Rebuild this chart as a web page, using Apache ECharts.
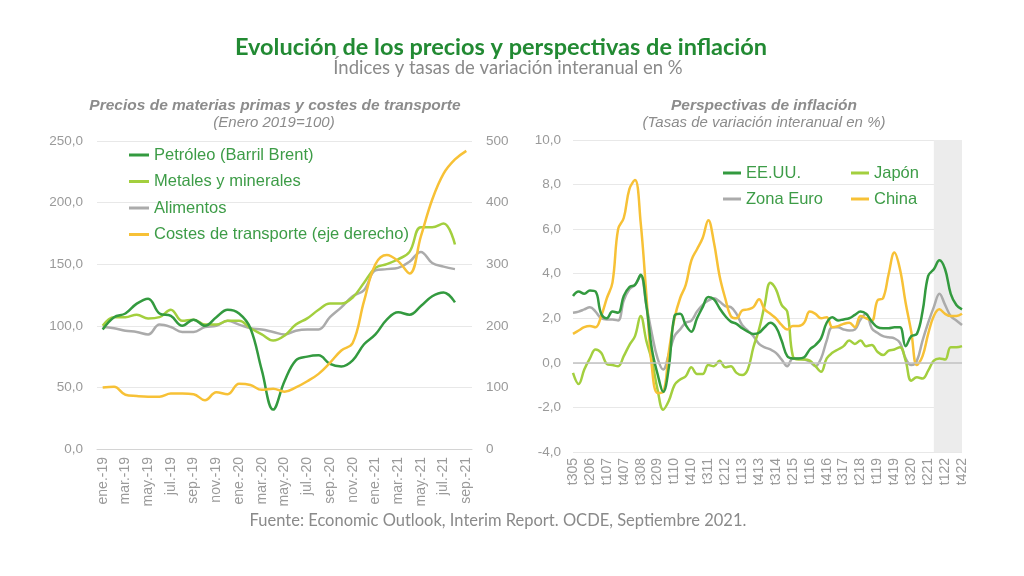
<!DOCTYPE html>
<html>
<head>
<meta charset="utf-8">
<script src="https://cdn.jsdelivr.net/npm/echarts@6/dist/echarts.min.js"></script>
<style>
html,body{margin:0;padding:0;background:#fff;}
#chart{width:1024px;height:576px;}
</style>
</head>
<body>
<div id="chart"></div>
<script>
// ---- Left panel: monthly commodity & transport indices (Enero 2019 = 100)
const months = ['ene.-19','feb.-19','mar.-19','abr.-19','may.-19','jun.-19','jul.-19','ago.-19','sep.-19','oct.-19','nov.-19','dic.-19',
  'ene.-20','feb.-20','mar.-20','abr.-20','may.-20','jun.-20','jul.-20','ago.-20','sep.-20','oct.-20','nov.-20','dic.-20',
  'ene.-21','feb.-21','mar.-21','abr.-21','may.-21','jun.-21','jul.-21','ago.-21','sep.-21'];
const petroleo   = [97,107,110,118,122,110,108,100,105,100,107,113,110,98,64,32,55,72,75,76,69,67,72,85,93,105,111,109,116,124,127,119];
const metales    = [100,107,107,109,106,107,113,104,105,101,101,104,104,98,93,88,92,101,106,113,118,118,123,135,147,150,154,160,180,180,183,166];
const alimentos  = [99,98,96,95,93,101,99,95,95,99,100,104,101,98,97,95,93,96,97,97,107,115,124,129,145,146,147,152,160,151,148,146];
const transporte = [100,101,88,86,85,85,90,90,89,79,92,89,106,104,96,98,93,100,110,122,140,160,172,240,300,315,305,285,345,405,447,470,484];

// ---- Right panel: quarterly inflation (% yoy)
const quarters = ['t305','t405',
  't106','t206','t306','t406','t107','t207','t307','t407','t108','t208','t308','t408','t109','t209','t309','t409',
  't110','t210','t310','t410','t111','t211','t311','t411','t112','t212','t312','t412','t113','t213','t313','t413',
  't114','t214','t314','t414','t115','t215','t315','t415','t116','t216','t316','t416','t117','t217','t317','t417',
  't118','t218','t318','t418','t119','t219','t319','t419','t120','t220','t320','t420','t121','t221','t321','t421',
  't122','t222','t322','t422'];
const eeuu = [3.0,3.2,3.1,3.25,3.2,2.2,2.0,2.3,2.25,3.0,3.4,3.5,3.95,2.6,0.6,-0.5,-1.3,-0.2,2.1,2.2,1.7,1.4,2.0,2.5,2.95,2.85,2.45,2.1,1.85,1.75,1.55,1.4,1.3,1.35,1.6,1.8,1.6,1.0,0.3,0.2,0.2,0.25,0.6,0.8,1.1,1.8,2.05,1.9,1.95,2.0,2.15,2.3,2.2,1.85,1.6,1.55,1.55,1.6,1.6,0.75,1.2,1.3,2.3,3.9,4.2,4.6,4.2,3.1,2.6,2.4];
const zonaEuro = [2.25,2.3,2.4,2.5,2.3,2.0,1.95,1.95,1.9,2.8,3.3,3.5,3.9,2.6,1.3,0.2,-0.3,0.4,1.2,1.5,1.8,1.9,2.3,2.6,2.8,2.9,2.75,2.55,2.5,2.2,1.7,1.45,1.2,0.85,0.7,0.6,0.45,0.15,-0.15,0.2,0.2,0.15,0.05,-0.15,0.2,1.0,1.6,1.6,1.5,1.45,1.5,1.95,2.2,1.55,1.35,1.2,1.15,1.1,0.9,0.2,-0.1,0.1,1.0,1.8,2.5,3.1,2.6,2.1,1.9,1.7];
const japon = [-0.45,-0.95,-0.3,0.2,0.6,0.45,-0.05,-0.1,-0.15,0.3,0.8,1.2,2.1,1.0,0.1,-1.2,-2.1,-1.7,-1.0,-0.75,-0.6,-0.2,-0.5,-0.5,-0.1,-0.15,0.1,-0.2,-0.15,-0.45,-0.55,-0.3,0.7,1.5,2.6,3.6,3.3,2.6,2.3,0.3,0.15,0.15,0.1,-0.15,-0.4,0.2,0.45,0.6,0.75,1.0,0.85,1.0,0.75,0.8,0.5,0.35,0.55,0.6,0.7,0.1,-0.8,-0.65,-0.7,-0.35,0.1,0.2,0.15,0.7,0.7,0.75];
const china = [1.3,1.45,1.6,1.65,1.6,2.1,2.9,3.6,6.0,6.5,7.8,8.2,6.3,3.1,-0.2,-1.35,-1.3,0.5,2.0,2.9,3.5,4.6,5.1,5.6,6.4,5.4,3.9,2.9,2.1,2.0,2.35,2.4,2.5,2.85,2.4,2.2,2.0,1.7,1.5,1.65,1.65,1.8,2.3,2.2,2.0,2.05,1.6,1.65,1.75,1.8,1.6,2.1,2.0,1.9,2.8,2.9,4.0,4.95,4.2,2.7,1.4,-0.1,0.3,1.3,2.1,2.4,2.2,2.1,2.1,2.2];
const forecastStart = 't321';

const C_DARK = '#339a3f', C_LIGHT = '#a3cf3e', C_GRAY = '#ababab', C_YELLOW = '#f7c136';
const LEG_TXT = '#3d9c47';
const AX_TXT = '#9a9a9a';
const comma1 = v => v.toFixed(1).replace('.', ',');
const sans = 'Liberation Sans, Arial, sans-serif';

const chart = echarts.init(document.getElementById('chart'), null, {renderer: 'canvas'});

function ttl(text, x, y, style) {
  return {text: text, left: x, top: y, textAlign: 'center', padding: 0, textStyle: style};
}
function leg(name, x, y) {
  return {data: [name], left: x, top: y, padding: 0, icon: 'rect', itemWidth: 18, itemHeight: 3,
    textStyle: {color: LEG_TXT, fontSize: 16.5, fontFamily: sans}};
}
function lineSeries(name, data, color, xi, yi, extra) {
  return Object.assign({name: name, type: 'line', data: data, xAxisIndex: xi, yAxisIndex: yi,
    showSymbol: false, symbol: 'none', smooth: 0.4, lineStyle: {color: color, width: 2.5},
    itemStyle: {color: color}, emphasis: {disabled: true}}, extra || {});
}

const option = {
  animation: false,
  backgroundColor: '#fff',
  title: [
    ttl('Evolución de los precios y perspectivas de inflación', 501, 35,
      {fontFamily: 'Lato', fontWeight: 'bold', fontSize: 23.5, color: '#228a33'}),
    ttl('Índices y tasas de variación interanual en %', 508, 59,
      {fontFamily: 'Lato', fontWeight: 'normal', fontSize: 18.5, color: '#8a8a8a'}),
    ttl('Precios de materias primas y costes de transporte', 275, 97.5,
      {fontFamily: sans, fontWeight: 'bold', fontStyle: 'italic', fontSize: 15.5, color: '#8c8c8c'}),
    ttl('(Enero 2019=100)', 274, 115.5,
      {fontFamily: sans, fontWeight: 'normal', fontStyle: 'italic', fontSize: 15, color: '#8c8c8c'}),
    ttl('Perspectivas de inflación', 764, 97.5,
      {fontFamily: sans, fontWeight: 'bold', fontStyle: 'italic', fontSize: 15.5, color: '#8c8c8c'}),
    ttl('(Tasas de variación interanual en %)', 764, 115.5,
      {fontFamily: sans, fontWeight: 'normal', fontStyle: 'italic', fontSize: 15, color: '#8c8c8c'}),
    ttl('Fuente: Economic Outlook, Interim Report. OCDE, Septiembre 2021.', 498, 512,
      {fontFamily: 'Lato', fontWeight: 'normal', fontSize: 16.5, color: '#8a8a8a'})
  ],
  legend: [
    {data: ['Petróleo (Barril Brent)', 'Metales y minerales', 'Alimentos', 'Costes de transporte (eje derecho)'],
     orient: 'vertical', left: 129, top: 146.5, itemGap: 9.5, padding: 0, icon: 'rect', itemWidth: 20, itemHeight: 3,
     textStyle: {color: LEG_TXT, fontSize: 16.5, fontFamily: sans}},
    leg('EE.UU.', 723, 164.5),
    leg('Japón', 851, 164.5),
    leg('Zona Euro', 723, 190.5),
    leg('China', 851, 190.5)
  ],
  grid: [
    {left: 97, width: 375, top: 141, height: 308},
    {left: 573, width: 389, top: 140, height: 312}
  ],
  xAxis: [
    {type: 'category', gridIndex: 0, data: months, boundaryGap: true,
     axisLine: {show: true, lineStyle: {color: '#d4d4d4', width: 1}},
     axisTick: {show: false},
     axisLabel: {interval: 1, rotate: 90, color: AX_TXT, fontSize: 14, fontFamily: sans, margin: 8}},
    {type: 'category', gridIndex: 1, data: quarters, boundaryGap: false,
     axisLine: {show: false, onZero: false},
     axisTick: {show: false},
     axisLabel: {interval: 2, rotate: 90, color: AX_TXT, fontSize: 14, fontFamily: sans, margin: 6}}
  ],
  yAxis: [
    {type: 'value', gridIndex: 0, min: 0, max: 250, interval: 50,
     axisLine: {show: false}, axisTick: {show: false},
     axisLabel: {color: AX_TXT, fontSize: 13.5, fontFamily: sans, margin: 14, formatter: comma1},
     splitLine: {lineStyle: {color: '#e8e8e8', width: 1}}},
    {type: 'value', gridIndex: 0, min: 0, max: 500, interval: 100, position: 'right',
     axisLine: {show: false}, axisTick: {show: false},
     axisLabel: {color: AX_TXT, fontSize: 13.5, fontFamily: sans, margin: 14},
     splitLine: {show: false}},
    {type: 'value', gridIndex: 1, min: -4, max: 10, interval: 2,
     axisLine: {show: false}, axisTick: {show: false},
     axisLabel: {color: AX_TXT, fontSize: 13.5, fontFamily: sans, margin: 12, formatter: comma1},
     splitLine: {lineStyle: {color: '#e8e8e8', width: 1}}}
  ],
  series: [
    lineSeries('Alimentos', alimentos, C_GRAY, 0, 0),
    lineSeries('Metales y minerales', metales, C_LIGHT, 0, 0),
    lineSeries('Petróleo (Barril Brent)', petroleo, C_DARK, 0, 0),
    lineSeries('Costes de transporte (eje derecho)', transporte, C_YELLOW, 0, 1),
    lineSeries('Zona Euro', zonaEuro, C_GRAY, 1, 2, {
      markArea: {silent: true, itemStyle: {color: '#ececec'},
        data: [[{xAxis: forecastStart}, {xAxis: quarters[quarters.length - 1]}]]},
      markLine: {silent: true, symbol: 'none', label: {show: false},
        lineStyle: {color: '#c2c2c2', width: 1.5, type: 'solid'}, data: [{yAxis: 0}]}
    }),
    lineSeries('Japón', japon, C_LIGHT, 1, 2),
    lineSeries('China', china, C_YELLOW, 1, 2),
    lineSeries('EE.UU.', eeuu, C_DARK, 1, 2)
  ]
};
chart.setOption(option);
</script>
</body>
</html>
